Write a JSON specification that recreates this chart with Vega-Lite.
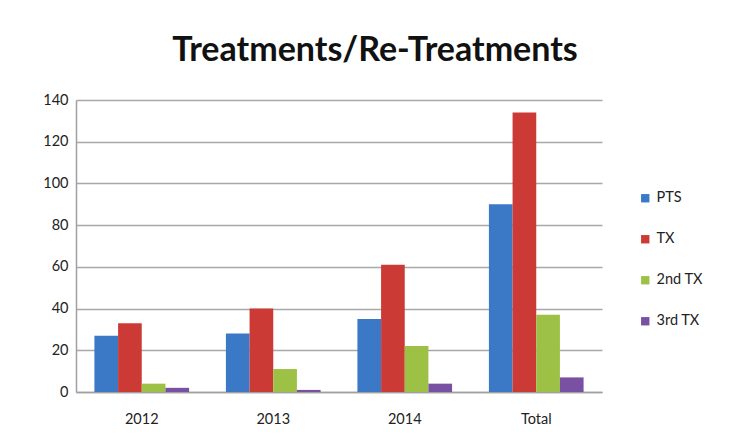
{
  "$schema": "https://vega.github.io/schema/vega-lite/v6.json",
  "width": 526,
  "height": 292,
  "autosize": {"type": "none"},
  "padding": {"left": 76, "top": 100, "right": 141, "bottom": 50},
  "background": "white",
  "title": {
    "text": "Treatments/Re-Treatments",
    "font": "Lato",
    "fontSize": 34,
    "fontWeight": "bold",
    "color": "#111111",
    "anchor": "middle",
    "dx": 36,
    "offset": 24
  },
  "data": {
    "values": [
      {"year": "2012", "series": "PTS", "value": 27},
      {"year": "2012", "series": "TX", "value": 33},
      {"year": "2012", "series": "2nd TX", "value": 4},
      {"year": "2012", "series": "3rd TX", "value": 2},
      {"year": "2013", "series": "PTS", "value": 28},
      {"year": "2013", "series": "TX", "value": 40},
      {"year": "2013", "series": "2nd TX", "value": 11},
      {"year": "2013", "series": "3rd TX", "value": 1},
      {"year": "2014", "series": "PTS", "value": 35},
      {"year": "2014", "series": "TX", "value": 61},
      {"year": "2014", "series": "2nd TX", "value": 22},
      {"year": "2014", "series": "3rd TX", "value": 4},
      {"year": "Total", "series": "PTS", "value": 90},
      {"year": "Total", "series": "TX", "value": 134},
      {"year": "Total", "series": "2nd TX", "value": 37},
      {"year": "Total", "series": "3rd TX", "value": 7}
    ]
  },
  "mark": {"type": "bar"},
  "encoding": {
    "x": {
      "field": "year",
      "type": "nominal",
      "sort": ["2012", "2013", "2014", "Total"],
      "scale": {"paddingInner": 0.28, "paddingOuter": 0.14},
      "axis": {
        "title": null,
        "labelAngle": 0,
        "ticks": false,
        "labelPadding": 20,
        "labelFont": "Lato",
        "labelFontSize": 14.5,
        "labelColor": "#222222",
        "domainColor": "#a0a0a0",
        "domainWidth": 1.5
      }
    },
    "xOffset": {
      "field": "series",
      "type": "nominal",
      "sort": ["PTS", "TX", "2nd TX", "3rd TX"],
      "scale": {"paddingInner": 0}
    },
    "y": {
      "field": "value",
      "type": "quantitative",
      "scale": {"domain": [0, 140], "nice": false},
      "axis": {
        "title": null,
        "values": [0, 20, 40, 60, 80, 100, 120, 140],
        "ticks": false,
        "labelPadding": 8,
        "labelFont": "Lato",
        "labelFontSize": 14.5,
        "labelColor": "#222222",
        "domainColor": "#a0a0a0",
        "domainWidth": 1.5,
        "gridColor": "#a8a8a8",
        "gridWidth": 1.5
      }
    },
    "color": {
      "field": "series",
      "type": "nominal",
      "sort": ["PTS", "TX", "2nd TX", "3rd TX"],
      "scale": {
        "domain": ["PTS", "TX", "2nd TX", "3rd TX"],
        "range": ["#3b78c6", "#cc3a36", "#9cc144", "#7a50a2"]
      },
      "legend": {
        "title": null,
        "orient": "none",
        "legendX": 562,
        "legendY": 91,
        "symbolType": "square",
        "symbolSize": 70,
        "symbolStrokeWidth": 0,
        "labelFont": "Lato",
        "labelFontSize": 14.5,
        "labelColor": "#222222",
        "rowPadding": 26,
        "labelOffset": 4
      }
    }
  },
  "config": {
    "view": {"stroke": null}
  }
}
